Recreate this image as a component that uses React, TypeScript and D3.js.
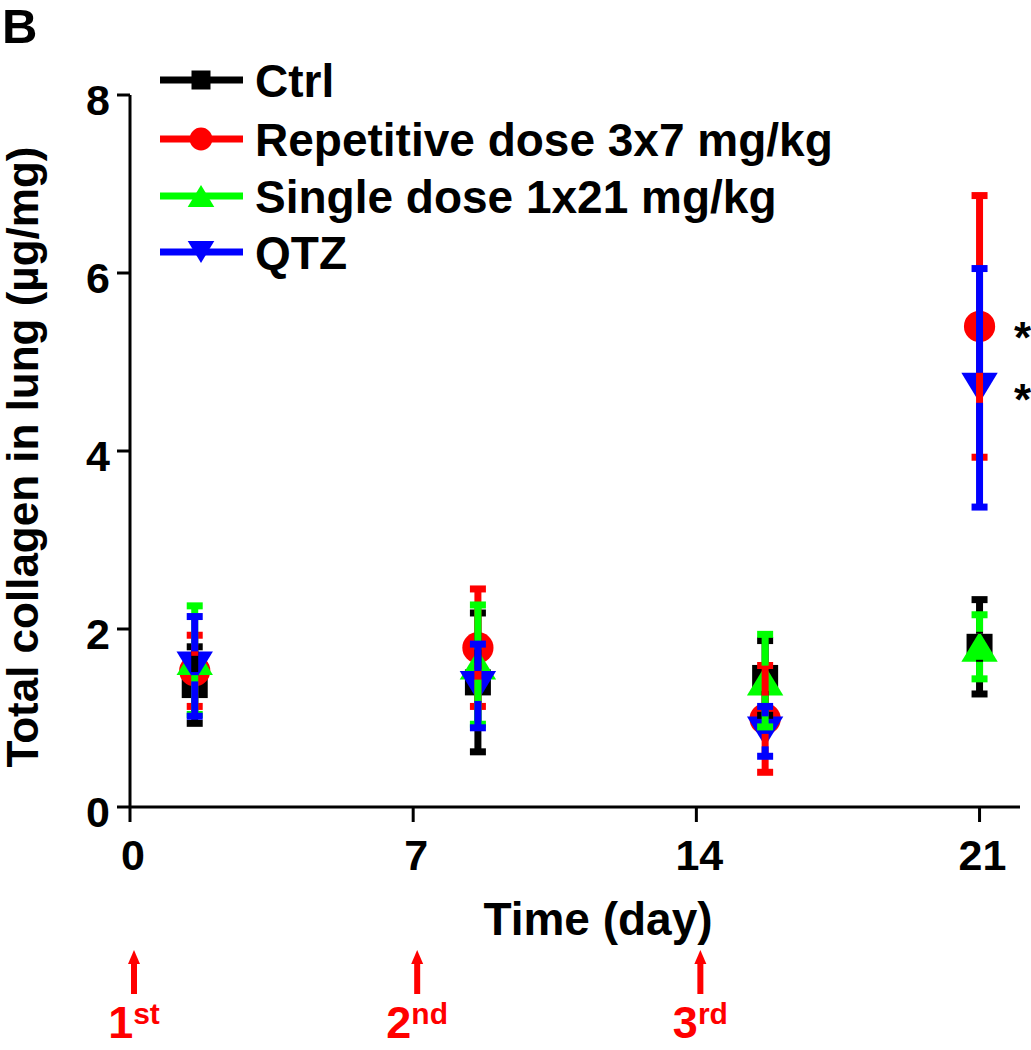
import React from "react";
import * as d3 from "d3";

// values (mean, +/- error)
const days = [1.6, 8.6, 15.7, 21];
const ctrlMean = [1.37, 1.4, 1.45, 1.8];
const ctrlErr = [0.43, 0.78, 0.42, 0.53];
const repMean = [1.53, 1.79, 0.99, 5.4];
const repErr = [0.4, 0.66, 0.6, 1.47];
const singleMean = [1.65, 1.6, 1.42, 1.8];
const singleErr = [0.61, 0.67, 0.52, 0.36];
const qtzMean = [1.58, 1.36, 0.85, 4.71];
const qtzErr = [0.56, 0.47, 0.28, 1.34];

const seriesNames = ["Ctrl", "Repetitive dose 3x7 mg/kg", "Single dose 1x21 mg/kg", "QTZ"];
const seriesColors = ["#000000", "#ff0000", "#00ff00", "#0000ff"];
const seriesShapes = ["square", "circle", "up", "down"];
const starred = [false, true, false, true]; // significance at last time point

const xTicks = [0, 7, 14, 21];
const yTicks = [0, 2, 4, 6, 8];
const doseDays = [0, 7, 14];
const doseNums = ["1", "2", "3"];
const doseSups = ["st", "nd", "rd"];

const FONT = "'Liberation Sans', Arial, sans-serif";

const x = d3.scaleLinear().domain([0, 22]).range([130, 1020]);
const y = d3.scaleLinear().domain([0, 8]).range([807, 95]);

// marker path centred at (cx, cy)
function markerPath(shape: string, cx: number, cy: number, s: number) {
  const p = d3.path();
  if (shape === "square") {
    p.rect(cx - s / 2, cy - s / 2, s, s);
  } else if (shape === "circle") {
    p.arc(cx, cy, s * 0.6, 0, Math.PI * 2);
  } else if (shape === "up") {
    const w = s * 1.4, h = s * 1.15;
    p.moveTo(cx, cy - h / 2);
    p.lineTo(cx + w / 2, cy + h / 2);
    p.lineTo(cx - w / 2, cy + h / 2);
    p.closePath();
  } else {
    const w = s * 1.4, h = s * 1.15;
    p.moveTo(cx - w / 2, cy - h / 2);
    p.lineTo(cx + w / 2, cy - h / 2);
    p.lineTo(cx, cy + h / 2);
    p.closePath();
  }
  return p.toString();
}

const App = () => {
  const means = [ctrlMean, repMean, singleMean, qtzMean];
  const errs = [ctrlErr, repErr, singleErr, qtzErr];
  const mSize = 26;
  const half = [13, 15, 15, 15];
  const x0 = x(0);

  return (
    <svg
      width={1031}
      height={1050}
      style={{ position: "absolute", left: 0, top: 0, background: "#fff" }}
      fontFamily={FONT}
      fontWeight="bold"
    >
      <text x={2} y={43} fontSize={49}>B</text>

      {/* y axis */}
      <line x1={x0} x2={x0} y1={y(8)} y2={y(0)} stroke="#000" strokeWidth={3} />
      {yTicks.map((t) => (
        <g key={"y" + t}>
          <line x1={117} x2={x0} y1={y(t)} y2={y(t)} stroke="#000" strokeWidth={3} />
          <text x={110} y={y(t) + 20} fontSize={43} textAnchor="end">{t}</text>
        </g>
      ))}
      <text
        transform={`translate(38, 457) rotate(-90)`}
        fontSize={44}
        textAnchor="middle"
      >
        Total collagen in lung (µg/mg)
      </text>

      {/* x axis */}
      <line x1={x0} x2={1020} y1={y(0)} y2={y(0)} stroke="#000" strokeWidth={3} />
      {xTicks.map((t) => (
        <g key={"x" + t}>
          <line x1={x(t)} x2={x(t)} y1={y(0)} y2={y(0) + 15} stroke="#000" strokeWidth={3} />
          <text x={x(t) + 3} y={870} fontSize={43} textAnchor="middle">{t}</text>
        </g>
      ))}
      <text x={598} y={935} fontSize={46} textAnchor="middle">Time (day)</text>

      {/* markers first */}
      {means.map((m, si) =>
        m.map((v, i) => (
          <path
            key={`m${si}-${i}`}
            d={markerPath(seriesShapes[si], x(days[i]), y(v), mSize)}
            fill={seriesColors[si]}
          />
        ))
      )}

      {/* error bars, drawn outside each own marker */}
      {means.map((m, si) =>
        m.map((v, i) => {
          const cx = x(days[i]);
          const top = y(v + errs[si][i]);
          const bot = y(v - errs[si][i]);
          const c = y(v);
          const col = seriesColors[si];
          return (
            <g key={`e${si}-${i}`} stroke={col} strokeWidth={7}>
              {c - half[si] > top && <line x1={cx} x2={cx} y1={c - half[si]} y2={top} />}
              {c + half[si] < bot && <line x1={cx} x2={cx} y1={c + half[si]} y2={bot} />}
              <line x1={cx - 8} x2={cx + 8} y1={top} y2={top} />
              <line x1={cx - 8} x2={cx + 8} y1={bot} y2={bot} />
            </g>
          );
        })
      )}

      {/* significance */}
      {means.map((m, si) =>
        starred[si] ? (
          <text key={"s" + si} x={x(days[3]) + 43} y={y(m[3]) + 27} fontSize={44} textAnchor="middle">*</text>
        ) : null
      )}

      {/* legend */}
      {seriesNames.map((name, si) => {
        const ly = [80, 139, 196, 252][si];
        return (
          <g key={"l" + si}>
            <line x1={160} x2={243} y1={ly} y2={ly} stroke={seriesColors[si]} strokeWidth={7} />
            <path d={markerPath(seriesShapes[si], 201, ly, 19)} fill={seriesColors[si]} />
            <text x={255} y={ly + 17} fontSize={46}>{name}</text>
          </g>
        );
      })}

      {/* dosing arrows */}
      {doseDays.map((d, i) => {
        const ax = x(d) + 4;
        return (
          <g key={"a" + d} fill="#ff0000">
            <line x1={ax} x2={ax} y1={994} y2={960} stroke="#ff0000" strokeWidth={6} />
            <path d={`M${ax - 6},${964} L${ax},${950} L${ax + 6},${964} Z`} />
            <text x={ax} y={1038} fontSize={45} textAnchor="middle">
              {doseNums[i]}
              <tspan fontSize={30} dy={-14}>{doseSups[i]}</tspan>
            </text>
          </g>
        );
      })}
    </svg>
  );
};

export default App;
